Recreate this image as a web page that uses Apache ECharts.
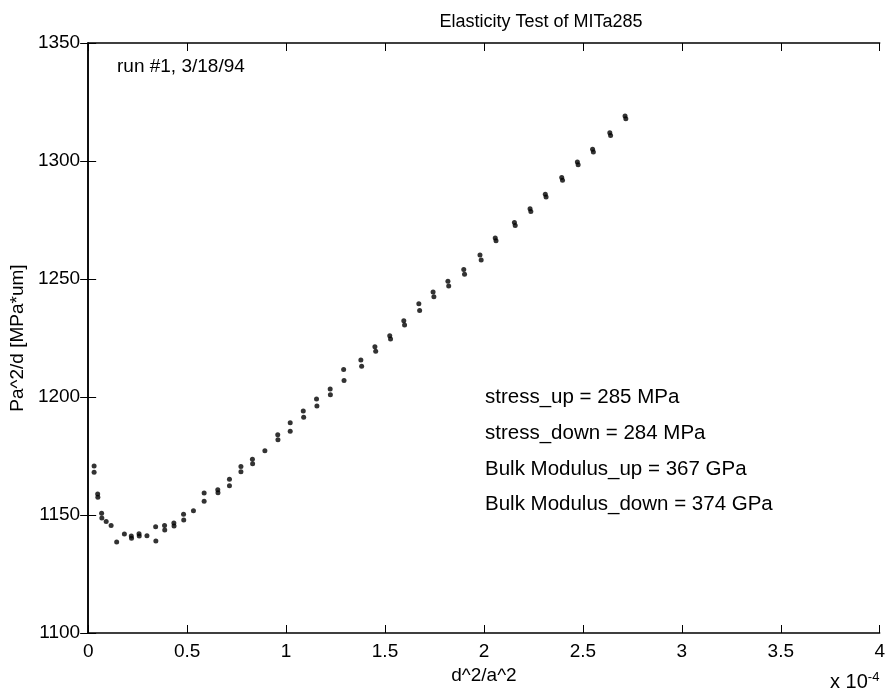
<!DOCTYPE html>
<html>
<head>
<meta charset="utf-8">
<title>Elasticity Test of MITa285</title>
<script src="https://cdn.jsdelivr.net/npm/echarts@6/dist/echarts.min.js"></script>
<style>
  html, body { margin: 0; padding: 0; background: #fff; }
  #chart { width: 888px; height: 696px; }
</style>
</head>
<body>
<div id="chart"></div>
<script>
  // d^2/a^2 in units of 1e-4
  var xVals = [
    0.030, 0.030, 0.048, 0.049, 0.068, 0.069, 0.091, 0.116, 0.144, 0.183,
    0.218, 0.219, 0.257, 0.258, 0.297, 0.341, 0.342, 0.386, 0.387, 0.433,
    0.434, 0.482, 0.483, 0.532, 0.586, 0.586, 0.655, 0.656, 0.714, 0.714,
    0.772, 0.772, 0.830, 0.831, 0.893, 0.958, 0.959, 1.021, 1.021, 1.087,
    1.089, 1.154, 1.156, 1.223, 1.224, 1.291, 1.293, 1.378, 1.382, 1.449,
    1.453, 1.524, 1.528, 1.595, 1.599, 1.671, 1.675, 1.743, 1.747, 1.818,
    1.822, 1.898, 1.902, 1.980, 1.986, 2.057, 2.061, 2.154, 2.158, 2.233,
    2.237, 2.310, 2.314, 2.393, 2.397, 2.472, 2.476, 2.549, 2.553, 2.636,
    2.640, 2.713, 2.717
  ];
  // Pa^2/d [MPa*um]
  var yVals = [
    1170.8, 1168.1, 1158.9, 1157.5, 1150.7, 1148.7, 1147.2, 1145.6, 1138.6, 1141.9,
    1141.1, 1140.1, 1142.1, 1141.1, 1141.2, 1145.0, 1139.0, 1145.6, 1143.6, 1146.6,
    1145.3, 1150.3, 1147.9, 1151.8, 1159.3, 1155.8, 1160.7, 1159.4, 1165.1, 1162.4,
    1170.6, 1168.3, 1173.6, 1171.7, 1177.2, 1184.0, 1181.9, 1189.1, 1185.5, 1194.1,
    1191.4, 1199.2, 1196.2, 1203.4, 1201.0, 1211.6, 1207.0, 1215.7, 1213.0, 1221.3,
    1219.4, 1226.0, 1224.6, 1232.3, 1230.5, 1239.5, 1236.6, 1244.5, 1242.5, 1249.0,
    1247.0, 1254.0, 1252.0, 1260.2, 1258.1, 1267.4, 1266.2, 1273.9, 1272.7, 1279.8,
    1278.6, 1285.9, 1284.7, 1293.0, 1291.8, 1299.6, 1298.4, 1305.0, 1303.8, 1312.0,
    1310.8, 1319.1, 1317.9
  ];
  var xTicks = [0, 0.5, 1, 1.5, 2, 2.5, 3, 3.5, 4];
  var yTicks = [1100, 1150, 1200, 1250, 1300, 1350];
  var notes = [
    'stress_up = 285 MPa',
    'stress_down = 284 MPa',
    'Bulk Modulus_up = 367 GPa',
    'Bulk Modulus_down = 374 GPa'
  ];

  var font = '"Liberation Sans", Arial, Helvetica, sans-serif';
  var fs = 19;

  var points = [];
  for (var i = 0; i < xVals.length; i++) points.push([xVals[i], yVals[i]]);

  var chart = echarts.init(document.getElementById('chart'), null, { renderer: 'canvas' });

  var tick = { show: true, inside: true, length: 8, lineStyle: { color: '#000', width: 1 } };
  var line = { show: true, lineStyle: { color: '#000', width: 1.5 } };

  var noteGraphics = notes.map(function (t, k) {
    return {
      type: 'text', left: 485, top: 387 + k * 35.7,
      style: { text: t, font: '20.5px ' + font, fill: '#000' }
    };
  });

  var option = {
    animation: false,
    backgroundColor: '#fff',
    title: {
      text: 'Elasticity Test of MITa285',
      left: 536, top: 8, textAlign: 'center',
      textStyle: { fontFamily: font, fontSize: 18, fontWeight: 'normal', color: '#000' }
    },
    grid: { left: 88, right: 6, top: 43, bottom: 63 },
    xAxis: [{
      type: 'value', min: 0, max: 4, interval: 0.5,
      axisLine: line, axisTick: tick, splitLine: { show: false },
      axisLabel: {
        color: '#000', fontFamily: font, fontSize: fs, margin: 9,
        formatter: function (v) { return xTicks.indexOf(v) >= 0 ? String(v) : ''; }
      },
      name: 'd^2/a^2', nameLocation: 'middle', nameGap: 21,
      nameTextStyle: { color: '#000', fontFamily: font, fontSize: fs }
    }, {
      type: 'value', position: 'top', min: 0, max: 4, interval: 0.5,
      axisLine: line, axisTick: tick, axisLabel: { show: false }, splitLine: { show: false }
    }],
    yAxis: [{
      type: 'value', min: 1100, max: 1350, interval: 50,
      axisLine: line, axisTick: tick, splitLine: { show: false },
      axisLabel: {
        color: '#000', fontFamily: font, fontSize: fs, margin: 8,
        formatter: function (v) { return yTicks.indexOf(v) >= 0 ? String(v) : ''; }
      },
      name: 'Pa^2/d [MPa*um]', nameLocation: 'middle', nameGap: 58, nameRotate: 90,
      nameTextStyle: { color: '#000', fontFamily: font, fontSize: fs }
    }, {
      type: 'value', position: 'right', min: 1100, max: 1350, interval: 50,
      axisLine: line, axisTick: tick, axisLabel: { show: false }, splitLine: { show: false }
    }],
    graphic: [
      {
        type: 'text', left: 117, top: 57,
        style: { text: 'run #1, 3/18/94', font: fs + 'px ' + font, fill: '#000' }
      },
      {
        type: 'text', left: 830, top: 671,
        style: {
          text: 'x 10{s|-4}',
          font: '20px ' + font, fill: '#000',
          rich: { s: { fontSize: 13, fontFamily: font, verticalAlign: 'top', padding: [0, 0, 10, 0] } }
        }
      }
    ].concat(noteGraphics),
    series: [{
      type: 'scatter',
      data: points,
      symbol: 'circle',
      symbolSize: 5,
      itemStyle: { color: '#000' },
      silent: true
    }]
  };

  chart.setOption(option);
  window.addEventListener('resize', function () { chart.resize(); });
</script>
</body>
</html>
